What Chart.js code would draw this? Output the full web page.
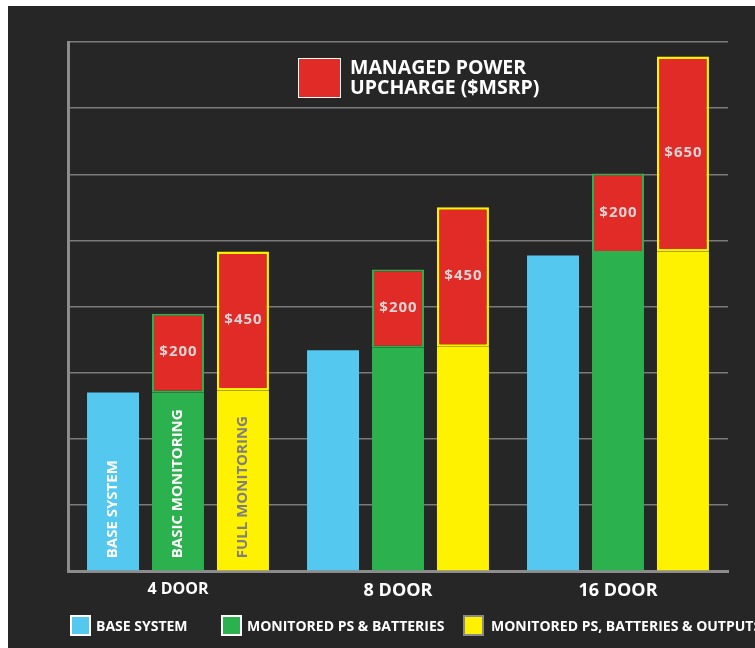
<!DOCTYPE html>
<html>
<head>
<meta charset="utf-8">
<script src="https://cdn.jsdelivr.net/npm/chart.js@4/dist/chart.umd.min.js"></script>
<style>
  html, body { margin: 0; padding: 0; background: #fff; overflow: hidden; }
  #wrap { position: absolute; left: 8px; top: 6px; width: 747px; height: 642px; background: #272627; overflow: hidden; font-family: "Open Sans", sans-serif; font-weight: 700; color: #fff; }
  #chart { position: absolute; left: 0; top: 0; }
  .box { position: absolute; box-sizing: border-box; }
  .txt { position: absolute; white-space: nowrap; }
</style>
</head>
<body>
<div id="wrap">
  <canvas id="chart" width="747" height="642"></canvas>

  <!-- leyenda de arriba -->
  <div class="box" style="left:290px;top:52px;width:43px;height:40px;background:#e02b27;border:1px solid #fff;"></div>
  <div class="txt" style="left:342px;top:51px;font-size:19.5px;line-height:20px;">MANAGED POWER<br>UPCHARGE ($MSRP)</div>

  <!-- leyenda de abajo -->
  <div class="box" style="left:62px;top:609px;width:21px;height:21px;background:#55c8f0;border:2px solid #fff;"></div>
  <div class="txt" style="left:88px;top:610px;font-size:14px;line-height:20px;">BASE SYSTEM</div>
  <div class="box" style="left:213px;top:609px;width:21px;height:21px;background:#2bb24f;border:2px solid #fff;"></div>
  <div class="txt" style="left:239px;top:610px;font-size:14px;line-height:20px;">MONITORED PS &amp; BATTERIES</div>
  <div class="box" style="left:455px;top:609px;width:21px;height:21px;background:#fff200;border:2px solid #8a8a8a;"></div>
  <div class="txt" style="left:483px;top:610px;font-size:14px;line-height:20px;">MONITORED PS, BATTERIES &amp; OUTPUTS</div>
</div>

<script>
var categories = ["4 DOOR", "8 DOOR", "16 DOOR"];
var baseSystem = [2.70, 3.34, 4.77];
var monitoredPs = [2.70, 3.38, 4.81];
var monitoredOutputs = [2.73, 3.39, 4.83];
var upchargePs = [1.19, 1.18, 1.20];
var upchargeOutputs = [2.10, 2.11, 2.95];
var upchargePsLabels = ["$200", "$200", "$200"];
var upchargeOutputsLabels = ["$450", "$450", "$650"];
var barNames = ["BASE SYSTEM", "BASIC MONITORING", "FULL MONITORING"];

var FONT = "'Open Sans', sans-serif";

// textos de los precios y nombres dentro de las barras
var barText = {
  id: "barText",
  afterDatasetsDraw: function (chart) {
    var ctx = chart.ctx;
    ctx.save();
    // precios centrados en el tramo rojo
    [[2, upchargePsLabels], [4, upchargeOutputsLabels]].forEach(function (d) {
      chart.getDatasetMeta(d[0]).data.forEach(function (bar, i) {
        ctx.fillStyle = "#dcd4d4";
        ctx.font = "bold 15px " + FONT;
        ctx.letterSpacing = "1px";
        ctx.textAlign = "center";
        ctx.textBaseline = "middle";
        ctx.fillText(d[1][i], bar.x + 0.5, (bar.y + bar.base) / 2 - 1);
      });
    });
    ctx.letterSpacing = "0px";
    // nombres girados en el grupo de 4 puertas
    [[0, "#ffffff"], [1, "#ffffff"], [3, "#7f7f7f"]].forEach(function (d, k) {
      var bar = chart.getDatasetMeta(d[0]).data[0];
      ctx.save();
      ctx.translate(bar.x, bar.base - 12);
      ctx.rotate(-Math.PI / 2);
      ctx.fillStyle = d[1];
      ctx.font = "bold 15px " + FONT;
      ctx.textAlign = "left";
      ctx.textBaseline = "middle";
      ctx.fillText(barNames[k], 0, 0);
      ctx.restore();
    });
    ctx.restore();
  }
};

var chart = new Chart(document.getElementById("chart").getContext("2d"), {
  type: "bar",
  data: {
    labels: categories,
    datasets: [
      { label: "BASE SYSTEM", data: baseSystem, stack: "s1", backgroundColor: "#55c8f0", borderWidth: 0 },
      { label: "MONITORED PS & BATTERIES", data: monitoredPs, stack: "s2", backgroundColor: "#2bb24f", borderWidth: 0 },
      { label: "UPCHARGE PS", data: upchargePs, stack: "s2", backgroundColor: "#e02b27", borderColor: "#2bb24f", borderWidth: 2, borderSkipped: false },
      { label: "MONITORED PS, BATTERIES & OUTPUTS", data: monitoredOutputs, stack: "s3", backgroundColor: "#fff200", borderWidth: 0 },
      { label: "UPCHARGE OUTPUTS", data: upchargeOutputs, stack: "s3", backgroundColor: "#e02b27", borderColor: "#fff200", borderWidth: 2.5, borderSkipped: false }
    ]
  },
  options: {
    responsive: false,
    animation: false,
    categoryPercentage: 0.886,
    barPercentage: 0.8,
    layout: { padding: { left: 0, right: 27, top: 36, bottom: 0 } },
    plugins: { legend: { display: false }, tooltip: { enabled: false } },
    scales: {
      x: {
        stacked: true,
        grid: { display: false },
        border: { color: "#8c8c8c", width: 3 },
        ticks: {
          color: "#ffffff",
          padding: 1,
          font: function (c) { return { family: FONT, weight: "bold", size: c.index === 0 ? 16 : 18 }; }
        },
        afterFit: function (s) { s.height = 77; }
      },
      y: {
        stacked: true,
        min: 0,
        max: 8,
        ticks: { display: false, stepSize: 1 },
        grid: { color: "#7a7a7a", lineWidth: 1.5, drawTicks: false },
        border: { color: "#8c8c8c", width: 3 },
        afterFit: function (s) { s.width = 60; }
      }
    }
  },
  plugins: [barText]
});
</script>
</body>
</html>
